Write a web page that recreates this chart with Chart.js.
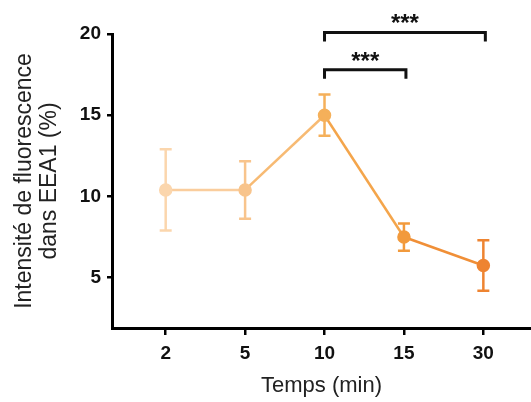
<!DOCTYPE html>
<html>
<head>
<meta charset="utf-8">
<script src="https://cdn.jsdelivr.net/npm/chart.js@4"></script>
<style>
  html, body { margin: 0; padding: 0; background: #fff; }
  #wrap { width: 531px; height: 402px; }
</style>
</head>
<body>
<div id="wrap"><canvas id="fluoChart"></canvas></div>
<script>
// time points (min) and mean +/- error
const timeLabels = ['2', '5', '10', '15', '30'];
const meanValues = [10.4, 10.4, 15.0, 7.5, 5.75];
const errValues = [2.5, 1.77, 1.27, 0.84, 1.55];
const pointColors = ['#fbd6ad', '#f8c48c', '#f5b05a', '#f29a3c', '#ee8431'];
const yTicks = [5, 10, 15, 20];

// significance brackets: from index, to index, label, bracket height
const sigFrom = [2, 2];
const sigTo = [4, 3];
const sigText = ['***', '***'];
const sigLevel = [20.1, 17.8];

const FONT = '"Liberation Sans", Arial, Helvetica, sans-serif';

// average of two hex colours, used for the line segments
function mix(a, b) {
    const pa = [1, 3, 5].map(k => parseInt(a.substr(k, 2), 16));
    const pb = [1, 3, 5].map(k => parseInt(b.substr(k, 2), 16));
    return 'rgb(' + pa.map((v, k) => Math.round((v + pb[k]) / 2)).join(',') + ')';
}

const errorBars = {
    id: 'errorBars',
    beforeDatasetsDraw(chart) {
        const { ctx, scales: { x, y } } = chart;
        ctx.save();
        ctx.lineWidth = 2.5;
        meanValues.forEach((m, i) => {
            const px = x.getPixelForValue(i);
            const top = y.getPixelForValue(m + errValues[i]);
            const bot = y.getPixelForValue(m - errValues[i]);
            ctx.strokeStyle = pointColors[i];
            ctx.beginPath();
            ctx.moveTo(px, top);
            ctx.lineTo(px, bot);
            ctx.moveTo(px - 6, top);
            ctx.lineTo(px + 6, top);
            ctx.moveTo(px - 6, bot);
            ctx.lineTo(px + 6, bot);
            ctx.stroke();
        });
        ctx.restore();
    }
};

const sigBrackets = {
    id: 'sigBrackets',
    afterDraw(chart) {
        const { ctx, scales: { x, y } } = chart;
        ctx.save();
        ctx.strokeStyle = '#111';
        ctx.fillStyle = '#111';
        ctx.lineWidth = 3;
        ctx.font = 'bold 24px ' + FONT;
        ctx.textAlign = 'center';
        ctx.textBaseline = 'alphabetic';
        sigFrom.forEach((from, i) => {
            const x1 = x.getPixelForValue(from);
            const x2 = x.getPixelForValue(sigTo[i]) + 2;
            const yb = y.getPixelForValue(sigLevel[i]);
            ctx.beginPath();
            ctx.moveTo(x1, yb + 9);
            ctx.lineTo(x1, yb);
            ctx.lineTo(x2, yb);
            ctx.lineTo(x2, yb + 9);
            ctx.stroke();
            ctx.fillText(sigText[i], (x1 + x2) / 2, yb - 1);
        });
        ctx.restore();
    }
};

new Chart(document.getElementById('fluoChart').getContext('2d'), {
    type: 'line',
    data: {
        datasets: [{
            data: meanValues.map((v, i) => ({ x: i, y: v })),
            borderWidth: 2.5,
            pointRadius: 5.5,
            pointBackgroundColor: pointColors,
            pointBorderColor: pointColors,
            borderColor: pointColors[0],
            segment: {
                borderColor: ctx => mix(pointColors[ctx.p0DataIndex], pointColors[ctx.p1DataIndex])
            },
            tension: 0
        }]
    },
    options: {
        responsive: true,
        maintainAspectRatio: false,
        animation: false,
        layout: { autoPadding: false, padding: { top: 34, left: 0, right: 0, bottom: 0 } },
        plugins: {
            legend: { display: false },
            tooltip: { enabled: false }
        },
        scales: {
            x: {
                type: 'linear',
                min: -0.676,
                max: 4.6,
                afterFit: s => { s.height = 74; s.paddingLeft = 0; s.paddingRight = 0; },
                afterBuildTicks: s => { s.ticks = timeLabels.map((t, i) => ({ value: i })); },
                border: { color: '#000', width: 3 },
                grid: { drawOnChartArea: false, color: '#000', lineWidth: 2.5, tickLength: 7 },
                ticks: {
                    color: '#111',
                    padding: 7,
                    maxRotation: 0,
                    font: { family: FONT, size: 19, weight: 'bold' },
                    callback: v => timeLabels[v]
                },
                title: {
                    display: true,
                    text: 'Temps (min)',
                    color: '#222',
                    padding: { top: 0, bottom: 3 },
                    font: { family: FONT, size: 22 }
                }
            },
            y: {
                min: 1.9,
                max: 20,
                afterFit: s => { s.width = 112; },
                afterBuildTicks: s => { s.ticks = yTicks.map(v => ({ value: v })); },
                border: { color: '#000', width: 3 },
                grid: { drawOnChartArea: false, color: '#000', lineWidth: 2.5, tickLength: 5 },
                ticks: {
                    color: '#111',
                    padding: 6,
                    font: { family: FONT, size: 19, weight: 'bold' }
                },
                title: {
                    display: true,
                    text: ['Intensité de fluorescence', 'dans EEA1 (%)'],
                    color: '#222',
                    padding: { top: 12, bottom: 0 },
                    font: { family: FONT, size: 23, lineHeight: 1.1 }
                }
            }
        }
    },
    plugins: [errorBars, sigBrackets]
});
</script>
</body>
</html>
